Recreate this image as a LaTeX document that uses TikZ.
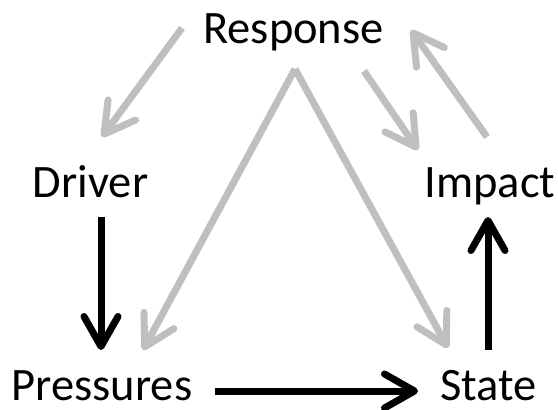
\documentclass[tikz,border=0pt]{standalone}
\usepackage{fontspec}
\setmainfont{Carlito}
\usetikzlibrary{arrows.meta,calc}
\definecolor{arrowgray}{RGB}{191,191,191}
\begin{document}
\begin{tikzpicture}[x=1pt,y=-1pt,
  lbl/.style={inner sep=0pt,anchor=base,font=\fontsize{46.5}{55}\selectfont},
  barb/.style={-{Straight Barb[length=30pt,width=34pt,line cap=round,line join=round]}},
  grayarrow/.style={barb,draw=arrowgray,line width=7pt},
  blackarrow/.style={barb,draw=black,line width=7pt}]
\useasboundingbox (0,0) rectangle (558,410);
\node[lbl] (Response)  at (293.5,43) {Response};
\node[lbl] (Driver)    at (90.5,197) {Driver};
\node[lbl] (Impact)    at (490,197) {Impact};
\node[lbl] (Pressures) at (102,400) {Pressures};
\node[lbl] (State)     at (488.5,400) {State};
% grey response arrows
\draw[grayarrow] ($(Response.base)+(-111.5,-15)$) -- ($(Driver.base)+(11.5,-60)$);
\draw[grayarrow] ($(Response.base)+(1.5,26)$) -- ($(Pressures.base)+(41,-50)$);
\draw[grayarrow] ($(Response.base)+(1.5,26)$) -- ($(State.base)+(-40.5,-52)$);
\draw[grayarrow] ($(Response.base)+(70.5,28)$) -- ($(Impact.base)+(-72,-47)$);
\draw[grayarrow] ($(Impact.base)+(-3,-60)$) -- ($(Response.base)+(117.5,-13)$);
% black chain
\draw[blackarrow] ($(Driver.base)+(10.5,20)$) -- ($(Pressures.base)+(-1,-50)$);
\draw[blackarrow] ($(Pressures.base)+(113,-9)$) -- ($(State.base)+(-70.5,-9)$);
\draw[blackarrow] ($(State.base)+(-0.5,-50)$) -- ($(Impact.base)+(-2,20)$);
\end{tikzpicture}
\end{document}
